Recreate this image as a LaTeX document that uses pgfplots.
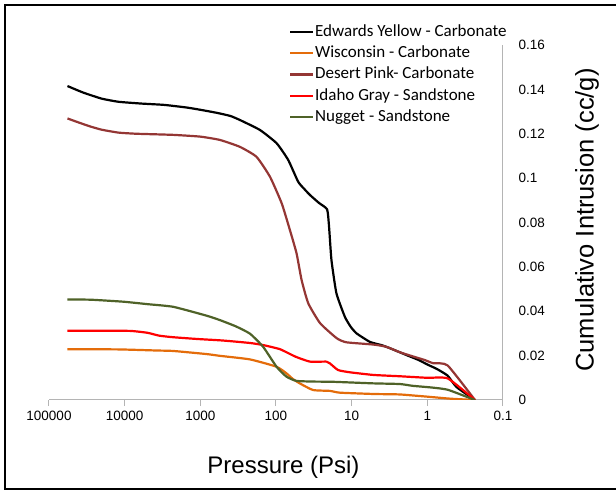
\documentclass[border=0pt]{standalone}
\usepackage{pgfplots}
\pgfplotsset{compat=1.18}
\usepackage{fontspec}
\setmainfont{Liberation Sans}
\newfontfamily\calibri{Carlito}
\definecolor{cBlack}{HTML}{000000}
\definecolor{cOrange}{HTML}{E46C0A}
\definecolor{cBrown}{HTML}{943634}
\definecolor{cRed}{HTML}{FF0000}
\definecolor{cGreen}{HTML}{4F6228}
\definecolor{axgray}{HTML}{B4B4B4}
\begin{document}
\begin{tikzpicture}[x=1pt,y=1pt]
\useasboundingbox (0,0) rectangle (616,490);
\draw[line width=2pt] (5,1) rectangle (640,485);
\begin{axis}[
  at={(49pt,90pt)}, anchor=south west,
  scale only axis, width=454pt, height=355pt,
  xmode=log, x dir=reverse,
  xmin=0.1, xmax=100000,
  ymin=0, ymax=0.16,
  axis x line=bottom, axis y line=right,
  axis line style={-, axgray, line width=1pt},
  xtick={100000,10000,1000,100,10,1,0.1},
  xticklabels={100000,10000,1000,100,10,1,0.1},
  xminorticks=false,
  ytick={0,0.02,0.04,0.06,0.08,0.1,0.12,0.14,0.16},
  yticklabels={0,0.02,0.04,0.06,0.08,0.1,0.12,0.14,0.16},
  scaled y ticks=false,
  tick align=outside,
  major tick length=6pt,
  xtick style={axgray, line width=1pt},
  ytick style={draw=none},
  /pgf/number format/assume math mode=true,
  ticklabel style={font=\fontsize{13.5}{16}\selectfont},
  xticklabel style={yshift=-2pt},
  yticklabel style={xshift=6pt},
  legend style={at={(axis description cs:0.5286,1.06)}, anchor=north west,
    draw=none, fill=none, inner sep=0pt, outer sep=0pt, row sep=4.8pt, column sep=1pt,
    font=\calibri\fontsize{17}{20}\selectfont,
    nodes={inner sep=0pt, text height=12.5pt, text depth=4pt}},
  legend cell align=left,
  legend image code/.code={\draw[#1, line width=2.2pt] (0pt,0pt) -- (23pt,0pt);},
  every axis plot/.append style={line width=2.2pt, line join=round, smooth, tension=0.3},
]
\addplot[cBlack] coordinates {
(57000,0.1415) (35000,0.1385) (20000,0.1358) (12000,0.1344) (6000,0.1336)
(3000,0.1330) (1500,0.1318) (1000,0.1308) (600,0.1294) (400,0.1280)
(300,0.1262) (163,0.1217) (98,0.1157) (69,0.1082) (51,0.0984) (42,0.0950)
(35.6,0.0924) (27,0.0888) (21.1,0.0859) (19.9,0.0781) (18.5,0.0631)
(15.9,0.0481) (12.3,0.0375) (10.3,0.0330) (8.6,0.0300) (5.75,0.0262)
(4,0.0247) (3.1,0.0233) (1.9,0.0203) (1.3,0.0180) (1.0,0.0160)
(0.75,0.0140) (0.54,0.0110) (0.41,0.0058) (0.235,0)
};
\addlegendentry{Edwards Yellow - Carbonate}
\addplot[cOrange] coordinates {
(57000,0.0229) (12000,0.0228) (3725,0.0223) (2280,0.0221) (826,0.0207)
(550,0.0199) (221,0.0183) (98.5,0.0150) (72.6,0.0120) (60,0.0095)
(48.6,0.0075) (32.4,0.0045) (19.4,0.0041) (14.3,0.0033) (5,0.0027)
(2.31,0.0025) (1.0,0.0015) (0.5,0.0006) (0.235,0)
};
\addlegendentry{Wisconsin - Carbonate}
\addplot[cBrown] coordinates {
(57000,0.1269) (40000,0.1250) (28000,0.1232) (20000,0.1218) (12000,0.1205)
(7000,0.1200) (2300,0.1195) (1000,0.1187) (550,0.1172) (300,0.1141)
(181,0.1096) (120,0.1006) (84,0.0886) (65.5,0.0766) (53.5,0.0661)
(45.9,0.0541) (37.5,0.0436) (26.1,0.0346) (15.7,0.0278) (11.7,0.0260)
(5.2,0.0250) (3.5,0.0240) (2.3,0.0215) (1.57,0.0197) (1.08,0.0180)
(0.84,0.0166) (0.54,0.0156) (0.235,0)
};
\addlegendentry{Desert Pink- Carbonate}
\addplot[cRed] coordinates {
(57000,0.0312) (12000,0.0312) (8000,0.0311) (5000,0.0303) (3500,0.0290)
(2300,0.0283) (1100,0.0275) (500,0.0268) (221,0.0257) (150,0.0248)
(88.7,0.0229) (55,0.0195) (35.6,0.0173) (21.5,0.0173) (19.4,0.0165)
(15.1,0.0135) (10.6,0.0125) (5.2,0.0113) (2.31,0.0107) (1.0,0.0100)
(0.535,0.0097) (0.235,0)
};
\addlegendentry{Idaho Gray - Sandstone}
\addplot[cGreen] coordinates {
(57000,0.0453) (28000,0.0452) (10400,0.0443) (5000,0.0432) (2280,0.0420)
(826,0.0380) (550,0.0360) (340,0.0332) (221,0.0299) (148,0.0240)
(98.5,0.0150) (72.6,0.0105) (53.6,0.0086) (31,0.0083) (17.5,0.0082)
(5.2,0.0075) (2.31,0.0072) (1.57,0.0064) (0.86,0.0056) (0.535,0.0046)
(0.235,0)
};
\addlegendentry{Nugget - Sandstone}
\end{axis}
\node[font=\fontsize{24}{28}\selectfont] at (283.5,23) {Pressure (Psi)};
\node[font=\fontsize{25.5}{30}\selectfont, rotate=90] at (587,270) {Cumulativo Intrusion (cc/g)};
\end{tikzpicture}
\end{document}
